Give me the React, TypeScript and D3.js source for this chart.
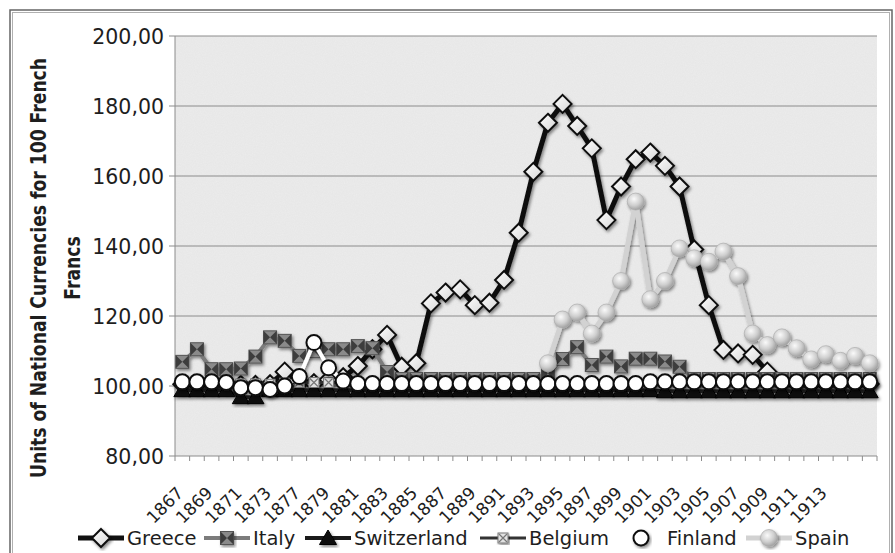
import * as d3 from "d3";

// categories on the x axis (the source skips 1874, 1876)
const categories = [
  "1867", "1868", "1869", "1870", "1871", "1872", "1873", "1875",
  "1877", "1878", "1879", "1880", "1881", "1882", "1883", "1884",
  "1885", "1886", "1887", "1888", "1889", "1890", "1891", "1892",
  "1893", "1894", "1895", "1896", "1897", "1898", "1899", "1900",
  "1901", "1902", "1903", "1904", "1905", "1906", "1907", "1908",
  "1909", "1910", "1911", "1912", "1913", "1914", "1915", "1916",
];

// only these categories get a label
const tickLabels = [
  "1867", "1869", "1871", "1873", "1877", "1879", "1881", "1883",
  "1885", "1887", "1889", "1891", "1893", "1895", "1897", "1899",
  "1901", "1903", "1905", "1907", "1909", "1911", "1913",
];

const yTicks = [80, 100, 120, 140, 160, 180, 200];

const greece = [
  100.5, 100.5, 100.5, 100.5, 100.3, 100.3, 100.5, 104.1,
  100.8, 100.8, 101.8, 102.5, 105.7, 110.5, 114.6, 105.5,
  106.5, 123.6, 126.7, 127.6, 123.1, 123.8, 130.3, 143.8,
  161.2, 175.2, 180.6, 174.3, 167.9, 147.4, 157.0, 164.8,
  166.7, 162.9, 157.0, 139.0, 123.1, 110.3, 109.3, 108.9,
  104.1, 100.8, 100.6, 100.6, 100.6, 100.6, 100.6, 100.6,
];

const italy = [
  106.9, 110.5, 104.8, 104.8, 105.0, 108.4, 113.9, 112.9,
  108.6, 110.0, 110.5, 110.5, 111.4, 110.8, 104.0, 102.0,
  102.0, 102.0, 102.0, 102.0, 102.0, 102.0, 102.0, 102.0,
  102.0, 103.5, 107.7, 111.1, 106.0, 108.4, 105.6, 107.8,
  107.8, 107.0, 105.5, 102.0, 102.0, 102.0, 102.0, 102.0,
  102.0, 102.0, 102.0, 102.0, 102.0, 102.0, 102.0, 102.0,
];

const switzerland = [
  98.8, 98.8, 98.8, 98.8, 96.8, 96.8, 98.8, 98.8,
  98.8, 98.8, 98.8, 98.8, 98.8, 98.8, 98.8, 98.8,
  98.8, 98.8, 98.8, 98.8, 98.8, 98.8, 98.8, 98.8,
  98.8, 98.8, 98.8, 98.8, 98.8, 98.8, 98.8, 98.8,
  98.8, 98.5, 98.5, 98.5, 98.5, 98.5, 98.5, 98.5,
  98.5, 98.5, 98.5, 98.5, 98.5, 98.5, 98.5, 98.5,
];

const belgium = [
  101.0, 101.0, 101.0, 101.0, 100.6, 100.6, 100.5, 100.8,
  101.0, 101.0, 101.0, 101.0, 100.8, 100.8, 100.8, 100.8,
  100.8, 100.8, 100.8, 100.8, 100.8, 100.8, 100.8, 100.8,
  100.8, 100.8, 100.8, 100.8, 100.8, 100.8, 100.8, 100.8,
  101.0, 101.0, 101.0, 101.0, 101.0, 101.0, 101.0, 101.0,
  101.0, 101.0, 101.0, 101.0, 101.0, 101.0, 101.0, 101.0,
];

const finland = [
  101.2, 101.2, 101.2, 101.0, 99.5, 99.5, 99.0, 100.0,
  102.7, 112.4, 105.2, 101.4, 100.7, 100.7, 100.7, 100.7,
  100.7, 100.7, 100.7, 100.7, 100.7, 100.7, 100.7, 100.7,
  100.7, 100.7, 100.7, 100.7, 100.7, 100.7, 100.7, 100.7,
  101.2, 101.2, 101.2, 101.2, 101.2, 101.2, 101.2, 101.2,
  101.2, 101.2, 101.2, 101.2, 101.2, 101.2, 101.2, 101.2,
];

const spain: (number | null)[] = [
  null, null, null, null, null, null, null, null,
  null, null, null, null, null, null, null, null,
  null, null, null, null, null, null, null, null,
  null, 106.5, 119.0, 121.0, 115.0, 121.0, 130.0, 152.7,
  124.8, 130.0, 139.3, 136.5, 135.5, 138.4, 131.4, 115.0,
  111.7, 113.9, 110.8, 107.6, 109.1, 107.2, 108.6, 106.5,
];

type MarkerKind = "diamond" | "square" | "triangle" | "xbox" | "circle" | "sphere";

const seriesList: {
  name: string;
  values: (number | null)[];
  stroke: string;
  width: number;
  marker: MarkerKind;
}[] = [
  { name: "Greece", values: greece, stroke: "#111", width: 5, marker: "diamond" },
  { name: "Italy", values: italy, stroke: "#7c7c7c", width: 4, marker: "square" },
  { name: "Switzerland", values: switzerland, stroke: "#1a1a1a", width: 4, marker: "triangle" },
  { name: "Belgium", values: belgium, stroke: "#333", width: 3, marker: "xbox" },
  { name: "Finland", values: finland, stroke: "#fff", width: 4, marker: "circle" },
  { name: "Spain", values: spain, stroke: "#d2d2d2", width: 5, marker: "sphere" },
];

const W = 895;
const H = 553;
const plot = { left: 175, right: 877, top: 36, bottom: 456 };
const font = "'DejaVu Sans', sans-serif";

// legend item starts (line sample start)
const legendX = [78, 204, 305, 480, 618, 746];

function Marker({ kind, x, y }: { kind: MarkerKind; x: number; y: number }) {
  const t = `translate(${x},${y})`;
  switch (kind) {
    case "diamond":
      return (
        <path transform={t} d="M0,-9L9,0L0,9L-9,0Z" fill="url(#gDiamond)" stroke="#111" strokeWidth={2} />
      );
    case "square":
      return (
        <g transform={t}>
          <rect x={-6.5} y={-6.5} width={13} height={13} fill="#8a8a8a" stroke="#555" strokeWidth={1} />
          <path d="M-6.5,-6.5L0,0L-6.5,6.5Z M6.5,-6.5L0,0L6.5,6.5Z" fill="#3e3e3e" />
        </g>
      );
    case "triangle":
      return <path transform={t} d="M0,-8L8.5,6.5L-8.5,6.5Z" fill="#111" stroke="#000" strokeWidth={1} />;
    case "xbox":
      return (
        <g transform={t}>
          <rect x={-5} y={-5} width={10} height={10} fill="#e2e2e2" stroke="#777" strokeWidth={1} />
          <path d="M-4,-4L4,4M4,-4L-4,4" stroke="#777" strokeWidth={1.2} />
        </g>
      );
    case "circle":
      return <circle transform={t} r={7.5} fill="#fff" stroke="#111" strokeWidth={2} />;
    case "sphere":
      return <circle transform={t} r={8.5} fill="url(#gSphere)" stroke="#a8a8a8" strokeWidth={0.6} />;
  }
}

export default function App() {
  const x = d3.scaleBand<string>().domain(categories).range([plot.left, plot.right]).paddingInner(0).paddingOuter(0);
  const bw = x.bandwidth();
  const cx = (c: string) => (x(c) as number) + bw / 2;
  const y = d3.scaleLinear().domain([80, 200]).range([plot.bottom, plot.top]);

  const lineGen = d3
    .line<number | null>()
    .defined((d) => d !== null)
    .x((_, i) => cx(categories[i]))
    .y((d) => y(d as number));

  const boundaries = d3.range(categories.length + 1).map((i) => plot.left + i * bw);

  return (
    <svg
      width={W}
      height={H}
      style={{ position: "absolute", left: 0, top: 0, background: "#fff" }}
      fontFamily={font}
    >
      <defs>
        <filter id="sh" x="-20%" y="-20%" width="140%" height="140%">
          <feDropShadow dx={1.5} dy={2} stdDeviation={1.4} floodColor="#000" floodOpacity={0.45} />
        </filter>
        <filter id="noise" x="0" y="0" width="100%" height="100%">
          <feTurbulence type="fractalNoise" baseFrequency="0.9" numOctaves={2} seed={3} />
          <feColorMatrix type="matrix" values="0 0 0 0 0.5  0 0 0 0 0.5  0 0 0 0 0.5  0 0 0 0.35 0" />
        </filter>
        <radialGradient id="gSphere" cx="40%" cy="35%" r="70%">
          <stop offset="0%" stopColor="#fafafa" />
          <stop offset="55%" stopColor="#cfcfcf" />
          <stop offset="100%" stopColor="#9a9a9a" />
        </radialGradient>
        <linearGradient id="gDiamond" x1="0" y1="0" x2="1" y2="1">
          <stop offset="0%" stopColor="#ffffff" />
          <stop offset="100%" stopColor="#d6d6d6" />
        </linearGradient>
      </defs>

      {/* outer chart border */}
      <rect x={10} y={10} width={882} height={600} fill="none" stroke="#666" strokeWidth={1.5} />
      <rect x={12.5} y={12.5} width={877} height={600} fill="none" stroke="#b0b0b0" strokeWidth={1} />

      {/* plot background */}
      <rect x={plot.left} y={plot.top} width={plot.right - plot.left} height={plot.bottom - plot.top} fill="#ececec" />
      <rect
        x={plot.left}
        y={plot.top}
        width={plot.right - plot.left}
        height={plot.bottom - plot.top}
        filter="url(#noise)"
        opacity={0.35}
      />

      {/* gridlines + y ticks */}
      {yTicks.map((t) => (
        <g key={t}>
          <line x1={plot.left - 6} x2={plot.right} y1={y(t)} y2={y(t)} stroke="#8c8c8c" strokeWidth={1} />
          <text x={164} y={y(t) + 7.5} textAnchor="end" fontSize={20.5} fill="#1e1e1e">
            {d3.format(".2f")(t).replace(".", ",")}
          </text>
        </g>
      ))}
      <line x1={plot.left} x2={plot.left} y1={plot.top} y2={plot.bottom} stroke="#8c8c8c" strokeWidth={1} />

      {/* x axis ticks */}
      {boundaries.map((bx, i) => (
        <line key={i} x1={bx} x2={bx} y1={plot.bottom} y2={plot.bottom + 5} stroke="#8c8c8c" strokeWidth={1} />
      ))}
      {tickLabels.map((lab) => {
        const lx = cx(lab) + 2;
        const ly = 494;
        return (
          <text
            key={lab}
            x={lx}
            y={ly}
            textAnchor="end"
            fontSize={17}
            fill="#1e1e1e"
            transform={`rotate(-45,${lx},${ly})`}
          >
            {lab}
          </text>
        );
      })}

      {/* y axis title */}
      <g transform="translate(46,268) rotate(-90) scale(1,1.2)">
        <text textAnchor="middle" fontSize={17.2} fontWeight="bold" fill="#1e1e1e">
          Units of National Currencies for 100 French
        </text>
      </g>
      <g transform="translate(80,268) rotate(-90) scale(1,1.2)">
        <text textAnchor="middle" fontSize={17.2} fontWeight="bold" fill="#1e1e1e">
          Francs
        </text>
      </g>

      {/* series */}
      {seriesList.map((s) => (
        <g key={s.name} filter="url(#sh)">
          <path d={lineGen(s.values) || ""} fill="none" stroke={s.stroke} strokeWidth={s.width} strokeLinejoin="round" />
          {s.values.map((v, i) =>
            v === null ? null : <Marker key={i} kind={s.marker} x={cx(categories[i])} y={y(v)} />,
          )}
        </g>
      ))}

      {/* legend */}
      {seriesList.map((s, i) => {
        const lx = legendX[i];
        const ly = 538;
        return (
          <g key={s.name}>
            <line x1={lx} x2={lx + 46} y1={ly} y2={ly} stroke={s.stroke} strokeWidth={s.width} />
            <g filter="url(#sh)">
              <Marker kind={s.marker} x={lx + 23} y={ly} />
            </g>
            <text x={lx + 49} y={ly + 7} fontSize={19.5} fill="#1e1e1e">
              {s.name}
            </text>
          </g>
        );
      })}
    </svg>
  );
}
